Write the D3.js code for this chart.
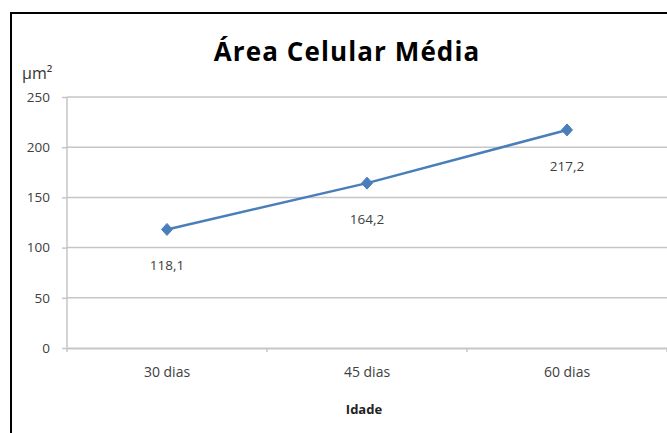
<!DOCTYPE html>
<html><head><meta charset="utf-8">
<script src="https://cdn.jsdelivr.net/npm/d3@7"></script>
<style>body{margin:0;background:#fff}svg{display:block}</style>
</head><body>
<script>
const categories = ["30 dias", "45 dias", "60 dias"];
const values = [118.1, 164.2, 217.2];
const valueLabels = ["118,1", "164,2", "217,2"];
const yTicks = [0, 50, 100, 150, 200, 250];
const title = "Área Celular Média";
const yUnit = "μm²";
const xTitle = "Idade";

(function () {
const W = 667, H = 433;
const svg = d3.select("body").append("svg").attr("width", W).attr("height", H);
const font = "'Open Sans', sans-serif";
const pLeft = 67, pRight = 667, pTop = 97, pBottom = 348;

// border
svg.append("path").attr("d", `M11,${H} L11,13 L${W},13`).attr("fill", "none").attr("stroke", "#000").attr("stroke-width", 2);

const x = d3.scaleBand().domain(categories).range([pLeft, pRight]);
const y = d3.scaleLinear().domain([0, 250]).range([pBottom, pTop]);

// gridlines
svg.append("g").selectAll("line").data(yTicks.filter(d => d > 0)).join("line")
  .attr("x1", pLeft).attr("x2", pRight).attr("y1", d => y(d)).attr("y2", d => y(d))
  .attr("stroke", "#c6c6c6").attr("stroke-width", 1.5);

// y axis
const ya = svg.append("g").attr("transform", `translate(${pLeft},0)`)
  .call(d3.axisLeft(y).tickValues(yTicks).tickSize(5).tickPadding(12));
ya.select(".domain").attr("stroke", "#c6c6c6").attr("stroke-width", 1.5).attr("d", `M-0,${pTop}V${pBottom + 4}`);
ya.selectAll(".tick line").attr("stroke", "#c6c6c6").attr("stroke-width", 1.5);
ya.selectAll("text").attr("fill", "#404040").attr("font-family", font).attr("font-size", 13.5);

// x axis
const xa = svg.append("g").attr("transform", `translate(0,${pBottom})`)
  .call(d3.axisBottom(x).tickSize(0).tickPadding(19));
xa.select(".domain").attr("stroke", "#c6c6c6").attr("stroke-width", 2);
xa.selectAll("text").attr("fill", "#404040").attr("font-family", font).attr("font-size", 14);
xa.append("g").selectAll("line").data(categories).join("line")
  .attr("x1", d => x(d) + x.bandwidth()).attr("x2", d => x(d) + x.bandwidth())
  .attr("y1", 0).attr("y2", 4).attr("stroke", "#c6c6c6").attr("stroke-width", 1.5);

// line
const cx = d => x(d) + x.bandwidth() / 2;
const pts = categories.map((c, i) => [cx(c), y(values[i])]);
svg.append("path").datum(pts).attr("d", d3.line()).attr("fill", "none")
  .attr("stroke", "#4a7ebb").attr("stroke-width", 2.5);
svg.append("g").selectAll("path").data(pts).join("path")
  .attr("transform", d => `translate(${d[0]},${d[1]})`)
  .attr("d", "M0,-6 L5.5,0 L0,6 L-5.5,0 Z").attr("fill", "#4a7ebb").attr("stroke", "#4a7ebb").attr("stroke-width", 1);

// data labels
svg.append("g").selectAll("text").data(pts).join("text")
  .attr("x", d => d[0]).attr("y", d => d[1] + 37).attr("text-anchor", "middle").attr("dominant-baseline", "middle")
  .attr("fill", "#404040").attr("font-family", font).attr("font-size", 13.5)
  .text((d, i) => valueLabels[i]);

// titles
svg.append("text").attr("x", 347).attr("y", 54).attr("text-anchor", "middle").attr("dominant-baseline", "middle")
  .attr("font-family", font).attr("font-weight", "bold").attr("font-size", 26).attr("letter-spacing", 1.1)
  .attr("fill", "#000").text(title);
svg.append("text").attr("x", 22).attr("y", 75).attr("dominant-baseline", "middle")
  .attr("font-family", font).attr("font-size", 16).attr("fill", "#333").text(yUnit);
svg.append("text").attr("x", 364).attr("y", 411).attr("text-anchor", "middle").attr("dominant-baseline", "middle")
  .attr("font-family", font).attr("font-weight", "bold").attr("font-size", 13).attr("fill", "#222").text(xTitle);
})();
</script>
</body></html>
